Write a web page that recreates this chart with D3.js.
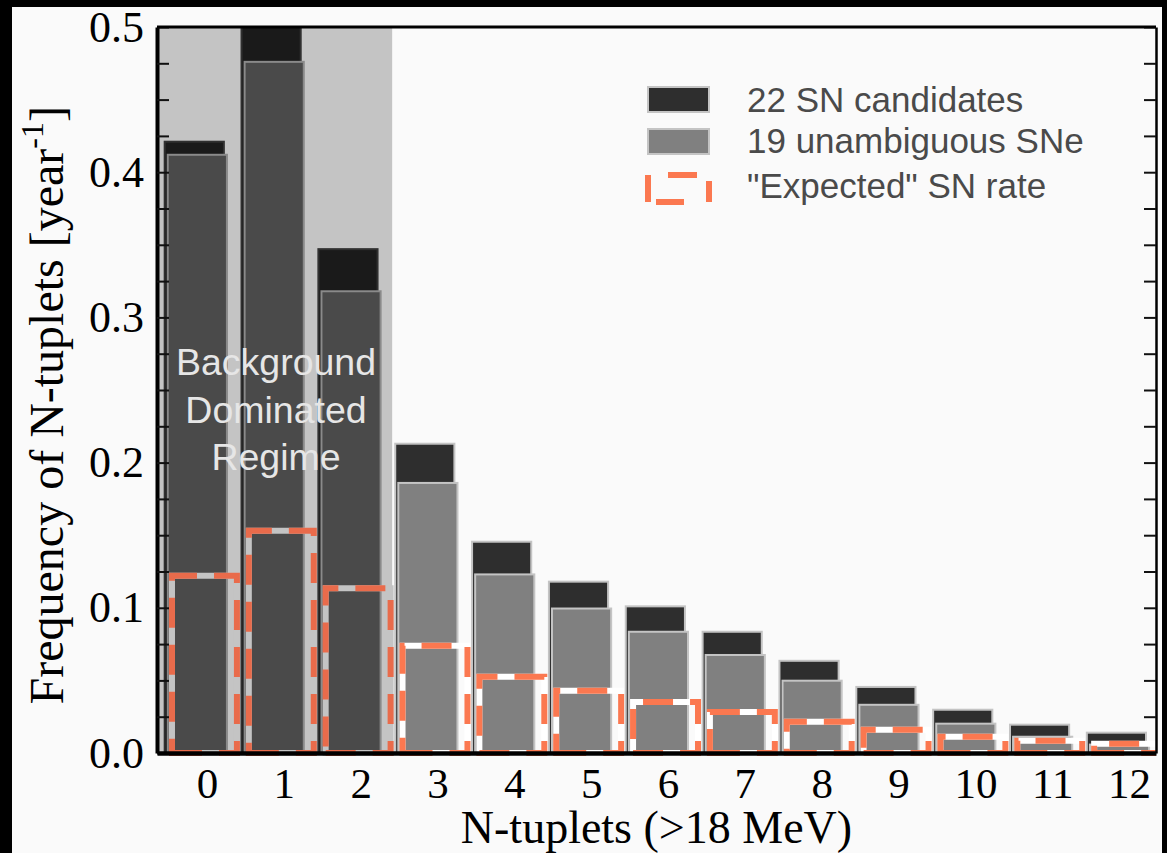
<!DOCTYPE html>
<html>
<head>
<meta charset="utf-8">
<script src="https://cdn.jsdelivr.net/npm/d3@7"></script>
<style>
  body { margin: 0; background: #fafafa; }
  svg { display: block; }
</style>
</head>
<body>
<div id="chart"></div>
<script>
document.addEventListener("DOMContentLoaded", function() {
    const width = 1167;
    const height = 853;

    // data
    const nTuplets = [0, 1, 2, 3, 4, 5, 6, 7, 8, 9, 10, 11, 12];
    const candidates22 = [0.421, 0.502, 0.347, 0.213, 0.1455, 0.118, 0.101, 0.0835, 0.0635, 0.0455, 0.0298, 0.0195, 0.014];
    const unambiguous19 = [0.412, 0.476, 0.318, 0.186, 0.123, 0.0995, 0.0835, 0.0675, 0.0498, 0.0332, 0.0202, 0.0112, 0.0058];
    const expectedRate = [0.122, 0.153, 0.1135, 0.0738, 0.0525, 0.0428, 0.0352, 0.0283, 0.0215, 0.016, 0.0112, 0.0085, 0.0063];
    const yTicks = [0.0, 0.1, 0.2, 0.3, 0.4, 0.5];
    const legendLabels = ['22 SN candidates', '19 unambiguous SNe', '"Expected" SN rate'];
    const backgroundLimit = 2.41;

    const plot = { left: 157, right: 1156, top: 27, bottom: 753 };
    const serif = '"Liberation Serif", "Times New Roman", serif';
    const sans = '"Liberation Sans", Arial, sans-serif';

    const svg = d3.select('#chart')
        .append('svg')
        .attr('width', width)
        .attr('height', height);

    svg.append('rect')
        .attr('width', width).attr('height', height)
        .attr('fill', '#fafafa');

    const x = d3.scaleLinear()
        .domain([-0.65, 12.35])
        .range([plot.left, plot.right]);

    const y = d3.scaleLinear()
        .domain([0, 0.5])
        .range([plot.bottom, plot.top]);

    svg.append('clipPath')
        .attr('id', 'plotclip')
        .append('rect')
        .attr('x', plot.left)
        .attr('y', plot.top)
        .attr('width', plot.right - plot.left)
        .attr('height', plot.bottom - plot.top + 6);

    const g = svg.append('g').attr('clip-path', 'url(#plotclip)');

    // shaded background dominated region
    g.append('rect')
        .attr('x', x(-0.65))
        .attr('y', plot.top)
        .attr('width', x(backgroundLimit) - x(-0.65))
        .attr('height', plot.bottom - plot.top)
        .attr('fill', '#c4c4c4');

    const inShade = (i) => nTuplets[i] <= 2;

    nTuplets.forEach((n, i) => {
        const shade = inShade(i);

        g.append('rect')
            .attr('x', x(n - 0.55))
            .attr('y', y(candidates22[i]))
            .attr('width', x(n + 0.22) - x(n - 0.55))
            .attr('height', y(0) - y(candidates22[i]))
            .attr('fill', shade ? '#1a1a1a' : '#2e2e2e')
            .attr('stroke', shade ? '#303030' : '#c4c4c4')
            .attr('stroke-width', 2);

        g.append('rect')
            .attr('x', x(n - 0.51))
            .attr('y', y(unambiguous19[i]))
            .attr('width', x(n + 0.26) - x(n - 0.51))
            .attr('height', y(0) - y(unambiguous19[i]))
            .attr('fill', shade ? '#4a4a4a' : '#808080')
            .attr('stroke', shade ? '#8a8a8a' : '#c4c4c4')
            .attr('stroke-width', 2);

        // dashed outline, drawn from the bottom-left corner
        const x0 = x(n - 0.455), x1 = x(n + 0.39);
        const p = d3.path();
        p.moveTo(x0, y(0));
        p.lineTo(x1, y(0));
        p.lineTo(x1, y(expectedRate[i]));
        p.lineTo(x0, y(expectedRate[i]));
        p.closePath();

        g.append('path')
            .attr('d', p.toString())
            .attr('fill', 'none')
            .attr('stroke', shade ? '#c4c4c4' : '#ffffff')
            .attr('stroke-width', 6);

        g.append('path')
            .attr('d', p.toString())
            .attr('fill', 'none')
            .attr('stroke', shade ? '#e96b4b' : '#fb7850')
            .attr('stroke-width', 6)
            .attr('stroke-dasharray', '30,17');
    });

    // annotation
    const note = svg.append('text')
        .attr('text-anchor', 'middle')
        .style('font-family', sans)
        .style('font-size', '37.5px')
        .attr('fill', '#e6e6e6');
    ['Background', 'Dominated', 'Regime'].forEach((t, i) => {
        note.append('tspan')
            .attr('x', 276)
            .attr('y', 375 + i * 47.5)
            .text(t);
    });

    // axes
    const minorTicks = d3.range(0, 21).map((k) => k * 0.025);

    const yAxis = svg.append('g')
        .attr('transform', `translate(${plot.left},0)`)
        .call(d3.axisLeft(y)
            .tickValues(minorTicks)
            .tickSizeInner(-12)
            .tickSizeOuter(0)
            .tickPadding(13)
            .tickFormat((d) => yTicks.some((t) => Math.abs(t - d) < 1e-6) ? d3.format('.1f')(d) : ''));
    yAxis.selectAll('text')
        .style('font-family', serif)
        .style('font-size', '44px')
        .attr('fill', '#000');
    yAxis.selectAll('line').attr('stroke', '#111').attr('stroke-width', 2);
    yAxis.select('.domain').attr('stroke', '#000').attr('stroke-width', 4);

    const yAxisRight = svg.append('g')
        .attr('transform', `translate(${plot.right},0)`)
        .call(d3.axisRight(y)
            .tickValues(minorTicks)
            .tickSizeInner(-12)
            .tickSizeOuter(0)
            .tickFormat(''));
    yAxisRight.selectAll('line').attr('stroke', '#111').attr('stroke-width', 2);
    yAxisRight.select('.domain').attr('stroke', '#000').attr('stroke-width', 2.5);

    svg.append('line')
        .attr('x1', plot.left).attr('x2', plot.right)
        .attr('y1', plot.top).attr('y2', plot.top)
        .attr('stroke', '#000').attr('stroke-width', 3);

    const xAxis = svg.append('g')
        .attr('transform', `translate(0,${plot.bottom})`)
        .call(d3.axisBottom(x)
            .tickValues(nTuplets)
            .tickSize(0)
            .tickPadding(14)
            .tickFormat(d3.format('d')));
    xAxis.selectAll('text')
        .style('font-family', serif)
        .style('font-size', '43px')
        .attr('fill', '#000');
    xAxis.select('.domain').attr('stroke', '#000').attr('stroke-width', 4.5);

    // axis titles
    svg.append('text')
        .attr('x', (plot.left + plot.right) / 2)
        .attr('y', 843)
        .attr('text-anchor', 'middle')
        .style('font-family', serif)
        .style('font-size', '46px')
        .text('N-tuplets (>18 MeV)');

    const yTitle = svg.append('text')
        .attr('transform', 'translate(63,106) rotate(-90)')
        .attr('text-anchor', 'end')
        .style('font-family', serif)
        .style('font-size', '48px');
    yTitle.append('tspan').text('Frequency of N-tuplets [year');
    yTitle.append('tspan').attr('dy', -20).style('font-size', '32px').text('-1');
    yTitle.append('tspan').attr('dy', 20).text(']');

    // legend
    const legend = svg.append('g');

    legend.append('rect')
        .attr('x', 648).attr('y', 87).attr('width', 61).attr('height', 25)
        .attr('fill', '#2e2e2e').attr('stroke', '#c4c4c4').attr('stroke-width', 2);
    legend.append('rect')
        .attr('x', 648).attr('y', 129).attr('width', 61).attr('height', 25)
        .attr('fill', '#808080').attr('stroke', '#c4c4c4').attr('stroke-width', 2);

    // dashed icon, traced from the top-left corner going down
    const lp = d3.path();
    lp.moveTo(648, 175);
    lp.lineTo(648, 202);
    lp.lineTo(709, 202);
    lp.lineTo(709, 175);
    lp.closePath();
    legend.append('path')
        .attr('d', lp.toString())
        .attr('fill', 'none')
        .attr('stroke', '#fb7850')
        .attr('stroke-width', 6)
        .attr('stroke-dasharray', '27,8,28,25,21,18,29,20');

    legendLabels.forEach((label, i) => {
        legend.append('text')
            .attr('x', 747)
            .attr('y', [112, 153, 198][i])
            .style('font-family', sans)
            .style('font-size', '35px')
            .attr('fill', '#4a4a4a')
            .text(label);
    });

    // outer black frame
    svg.append('rect').attr('x', 0).attr('y', 0).attr('width', 12).attr('height', height).attr('fill', '#000');
    svg.append('rect').attr('x', 0).attr('y', 0).attr('width', width).attr('height', 7).attr('fill', '#000');
    svg.append('rect').attr('x', 1162).attr('y', 0).attr('width', 5).attr('height', height).attr('fill', '#000');
});
</script>
</body>
</html>
